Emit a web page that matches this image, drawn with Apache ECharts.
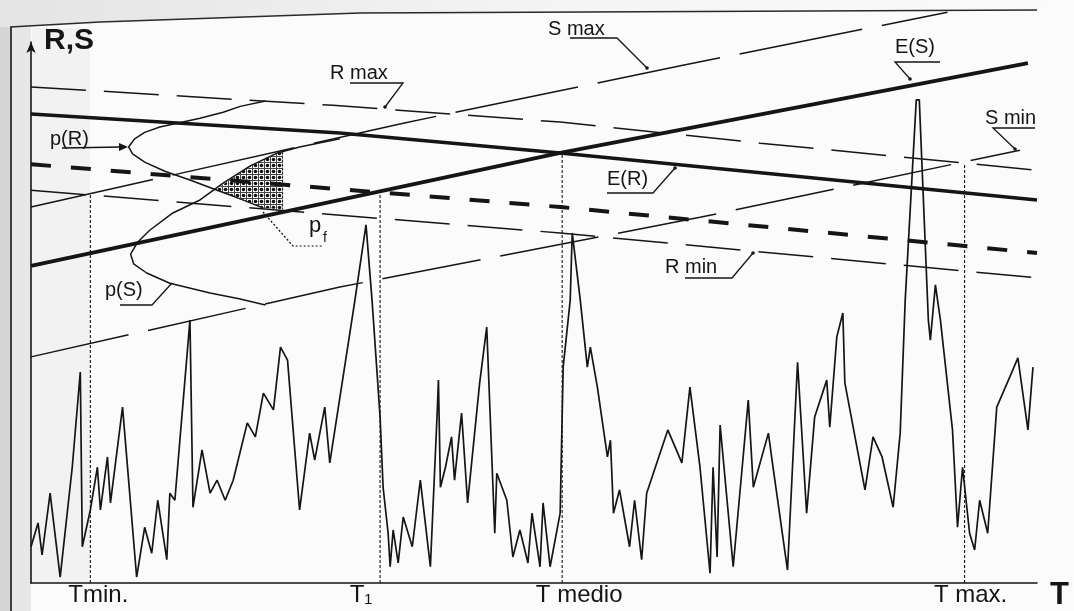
<!DOCTYPE html>
<html>
<head>
<meta charset="utf-8">
<script src="https://cdn.jsdelivr.net/npm/echarts@6/dist/echarts.min.js"></script>
<style>
  html, body { margin: 0; padding: 0; background: #fbfbfb; }
  #chart { width: 1074px; height: 611px; }
</style>
</head>
<body>
<div id="chart"></div>
<script>
// Time axis T and level axis R,S, both in relative units 0–100.

// Straight trends: expected values and bounds of resistance R and load S
const expectedS = [[0, 58.6], [52.6, 79.5], [99.1, 96.1]];
const expectedR = [[0, 86.7], [30.7, 83.2], [52.6, 79.5], [100, 70.8]];
const designR   = [[0, 77.4], [52.6, 69.5], [100, 61.0]];
const rMax      = [[0, 91.7], [30, 88.3], [52.6, 85.2], [72.5, 81.3], [100, 76.3]];
const rMin      = [[0, 72.6], [52.6, 64.7], [100, 56.4]];
const sMax      = [[0, 69.5], [37, 85.0], [64.8, 95.7], [91.1, 105.5]];
const sMin      = [[0, 41.8], [30.7, 54.7], [66.5, 67.6], [98.3, 80.0]];

// Realisation of the load process S(t)
const loadT = [0,0.7,1.1,1.9,2.9,4.1,4.9,5.1,5.9,6.6,
  6.9,7.6,7.9,9.1,10.5,11.3,12.0,12.6,13.5,13.8,
  14.3,15.8,16.1,17.0,17.8,18.5,19.3,20.1,21.5,22.3,
  23.1,24.1,24.8,25.5,26.7,27.7,28.2,29.2,29.7,32.2,
  33.3,33.9,34.7,35.0,35.5,35.7,36.0,36.5,37.0,37.9,
  38.7,39.7,40.4,40.5,40.7,41.2,41.8,42.1,42.8,43.4,
  44.6,45.3,46.1,46.3,47.3,47.9,48.6,49.4,49.8,50.6,
  50.9,51.6,52.6,52.9,53.6,53.8,54.6,55.3,55.6,56.3,
  57.3,57.6,57.9,58.5,59.5,60.0,60.7,61.2,63.3,64.7,
  65.5,66.5,67.5,67.8,68.2,68.5,69.8,71.3,71.8,73.3,
  73.7,75.2,76.2,77.1,77.9,79.1,79.4,80.1,80.7,80.9,
  82.9,83.7,84.6,85.7,86.4,86.9,88.0,88.3,89.2,89.4,
  89.9,90.4,91.6,92.1,92.6,93.3,93.8,94.3,95.1,96.0,
  97.3,98.1,99.1,99.6];
const loadS = [6.7,11.1,5.2,16.6,1.1,21.4,39.0,6.7,13.5,21.4,
  13.5,23.3,14.8,32.5,1.1,10.3,5.5,15.3,4.3,16.6,
  15.3,48.6,14.0,24.6,16.6,19.0,15.3,19.0,29.6,27.0,
  35.1,32.0,43.6,41.2,13.5,27.7,22.7,32.5,22.2,52.3,
  66.2,52.3,30.7,17.7,9.2,3.0,9.8,3.7,12.2,6.7,
  19.0,3.0,32.5,37.5,17.7,21.4,27.0,19.0,31.4,14.8,
  37.0,47.3,9.2,20.3,15.3,4.8,9.8,3.7,12.9,3.0,
  14.8,3.0,12.9,39.9,52.3,64.7,52.3,39.9,43.6,36.2,
  23.3,26.4,12.9,17.2,6.7,15.3,4.3,16.6,28.3,22.2,
  36.2,21.4,1.8,21.4,4.8,29.2,3.0,33.8,17.7,27.7,
  22.2,2.4,40.8,12.9,30.7,37.5,28.8,45.5,49.9,37.0,
  17.2,27.0,23.3,14.0,27.7,52.3,89.3,89.3,48.6,44.9,
  55.1,48.6,28.3,10.3,21.4,9.2,6.1,15.3,9.2,32.5,
  38.1,41.6,28.3,39.9];

// Density outlines p(R) and p(S) drawn sideways at T min
const pdfR = [[23.3,89.1],[20.8,88.1],[19.1,87.0],[16.8,85.9],[15.1,85.2],[12.8,84.3],
  [11.3,83.3],[10.3,82.1],[9.7,80.6],[10.1,79.3],[11.3,77.8],[13.3,76.1],
  [15.8,74.5],[18.5,72.6],[20.8,71.0],[23.1,69.3]];
const pdfS = [[30.7,82.1],[26.7,80.6],[24.5,79.5],[21.8,77.1],[19.1,73.9],[16.8,70.8],
  [14.1,68.4],[11.8,65.2],[10.6,63.0],[9.9,60.8],[10.2,59.0],[11.5,57.3],
  [13.8,55.4],[17.8,53.6],[20.8,52.5],[23.3,51.4]];
// Overlap of the two densities: failure probability p_f
const pfArea = [[18.4,72.8],[21.8,77.1],[24.5,79.5],[25.0,79.6],[25.0,69.1],[23.1,69.3],[20.8,71.0]];

// Reference instants
const markT = [5.9, 34.7, 52.8, 92.8];
const markTop = [71.9, 72.6, 79.5, 77.6];
const markLabels = ['Tmin.', 'T\u2081', 'T medio', 'T max.'];
const markLabelShift = [8, -19, 17, 6];

const INK = '#151515';
const FONT = '"Liberation Sans", Arial, sans-serif';

// dotted fill for the p_f region
function dotPattern() {
  const c = document.createElement('canvas');
  c.width = 6; c.height = 6;
  const g = c.getContext('2d');
  g.fillStyle = '#ffffff'; g.fillRect(0, 0, 6, 6);
  g.strokeStyle = '#444'; g.lineWidth = 1;
  g.beginPath(); g.moveTo(0, 0.5); g.lineTo(6, 0.5); g.moveTo(0.5, 0); g.lineTo(0.5, 6); g.stroke();
  g.fillStyle = '#111';
  g.beginPath(); g.arc(3.5, 3.5, 1.8, 0, Math.PI * 2); g.fill();
  return c;
}

function lineSeries(name, data, width, dash, z) {
  return {
    name, type: 'line', data, showSymbol: false, symbol: 'none', clip: false,
    silent: true, z: z || 3,
    lineStyle: { color: INK, width, type: dash || 'solid', cap: 'butt' }
  };
}

const chart = echarts.init(document.getElementById('chart'), null, { renderer: 'canvas' });

const txt = (text, x, y, size, extra) => Object.assign({
  type: 'text', x, y, z: 20,
  style: { text, fill: INK, font: `${size}px ${FONT}`, verticalAlign: 'middle', align: 'left' }
}, extra || {});
const poly = (points, extra) => Object.assign({
  type: 'polyline', z: 20, shape: { points },
  style: { stroke: INK, lineWidth: 1.3, fill: null }
}, extra || {});
const dot = (x, y) => ({ type: 'circle', z: 20, shape: { cx: x, cy: y, r: 1.8 }, style: { fill: INK } });

chart.setOption({
  backgroundColor: '#fbfbfb',
  animation: false,
  grid: { left: 31, right: 37, top: 42, bottom: 28, containLabel: false },
  xAxis: {
    type: 'value', min: 0, max: 100,
    axisLine: { show: true, lineStyle: { color: INK, width: 1.6 } },
    axisTick: { show: false }, axisLabel: { show: false }, splitLine: { show: false }
  },
  yAxis: {
    type: 'value', min: 0, max: 100,
    axisLine: { show: true, symbol: ['none', 'arrow'], symbolSize: [7, 11],
      lineStyle: { color: INK, width: 1.6 } },
    axisTick: { show: false }, axisLabel: { show: false }, splitLine: { show: false }
  },
  graphic: [
    // scanned page margins and frame
    { type: 'rect', z: -10, shape: { x: 0, y: 0, width: 10, height: 611 }, style: { fill: '#d5d5d5' } },
    { type: 'rect', z: -10, shape: { x: 11, y: 20, width: 20, height: 591 }, style: { fill: '#e7e7e7' } },
    { type: 'rect', z: -10, shape: { x: 32, y: 28, width: 58, height: 554 }, style: { fill: '#f2f2f2' } },
    { type: 'polygon', z: -10, shape: { points: [[0,0],[1074,0],[1040,10],[360,13],[100,22],[10,27],[0,27]] },
      style: { fill: new echarts.graphic.LinearGradient(0, 0, 1, 0, [
        { offset: 0, color: '#e4e4e4' }, { offset: 0.5, color: '#f4f4f4' }, { offset: 1, color: '#fbfbfb' }]) } },
    poly([[10,27],[100,22],[360,13],[1037,10]], { style: { stroke: '#2a2a2a', lineWidth: 1.6, fill: null } }),
    poly([[11,27],[11,611]], { style: { stroke: '#2a2a2a', lineWidth: 1.8, fill: null } }),

    // axis titles
    txt('R,S', 44, 41, 30, { style: { text: 'R,S', fill: INK, font: `bold 30px ${FONT}`, verticalAlign: 'middle' } }),
    txt('T', 1050, 595, 30, { style: { text: 'T', fill: INK,
      font: `bold 31px ${FONT}`, verticalAlign: 'middle' } }),

    // annotations with leaders
    txt('S max', 548, 29, 20), poly([[570,38],[617,38],[647,68]]), dot(647, 68),
    txt('R max', 330, 73, 20), poly([[350,83],[403,83],[385,107]]), dot(385, 107),
    txt('E(S)', 895, 47, 20), poly([[940,62],[895,62],[910,79]]), dot(910, 79),
    txt('S min', 985, 118, 20), poly([[1035,128],[993,128],[1015,149]]), dot(1015, 149),
    txt('E(R)', 607, 179, 20), poly([[607,193],[653,193],[675,168]]), dot(675, 168),
    txt('R min', 665, 267, 20), poly([[685,278],[732,278],[753,253]]), dot(753, 253),
    txt('p(R)', 50, 139, 20), poly([[62,148],[122,147]]),
    { type: 'polygon', z: 20, shape: { points: [[128,147],[119,143],[119,151]] }, style: { fill: INK } },
    txt('p(S)', 105, 290, 20), poly([[120,305],[152,305],[172,283]]),
    txt('p', 309, 226, 22), txt('f', 323, 238, 14),
    poly([[263,212],[293,246],[322,246]], { style: { stroke: INK, lineWidth: 1.2, lineDash: [2, 2], fill: null } })
  ],
  series: [
    lineSeries('R max', rMax, 1.5, [55, 18]),
    lineSeries('R min', rMin, 1.5, [55, 18]),
    lineSeries('S max', sMax, 1.5, [125, 20]),
    lineSeries('S min', sMin, 1.5, [100, 20]),
    lineSeries('S(t)', loadT.map((t, i) => [t, loadS[i]]), 1.7, 'solid', 4),
    lineSeries('p(R)', pdfR, 1.5, 'solid', 4),
    lineSeries('p(S)', pdfS, 1.5, 'solid', 4),
    {
      name: 'p_f', type: 'custom', clip: false, silent: true, z: 3,
      data: [0],
      renderItem: (params, api) => ({
        type: 'polygon',
        shape: { points: pfArea.map(p => api.coord(p)) },
        style: { fill: { image: dotPattern(), repeat: 'repeat' }, stroke: null }
      })
    },
    lineSeries('p_f edge', [pfArea[3], pfArea[4]], 1.2, [2, 2], 4),
    {
      name: 'instants', type: 'custom', clip: false, silent: true, z: 2,
      data: markT.map((t, i) => [t, markTop[i]]),
      renderItem: (params, api) => {
        const a = api.coord([api.value(0), 0]);
        const b = api.coord([api.value(0), api.value(1)]);
        return { type: 'line', shape: { x1: a[0], y1: a[1], x2: b[0], y2: b[1] },
          style: { stroke: INK, lineWidth: 1.1, lineDash: [3, 2] } };
      }
    },
    lineSeries('design R', designR, 4, [20, 20], 5),
    lineSeries('E(R)', expectedR, 3.5, 'solid', 6),
    lineSeries('E(S)', expectedS, 3.8, 'solid', 6),
    {
      name: 'instant labels', type: 'scatter', symbolSize: 0, silent: true, clip: false,
      itemStyle: { opacity: 1 },
      data: markT.map((t, i) => ({
        value: [t, 0],
        label: { offset: [markLabelShift[i], 0] }
      })),
      label: {
        show: true, position: 'bottom', distance: 0, color: INK, opacity: 1,
        fontFamily: FONT, fontSize: 24,
        formatter: p => markLabels[p.dataIndex]
      }
    }
  ]
});
</script>
</body>
</html>
